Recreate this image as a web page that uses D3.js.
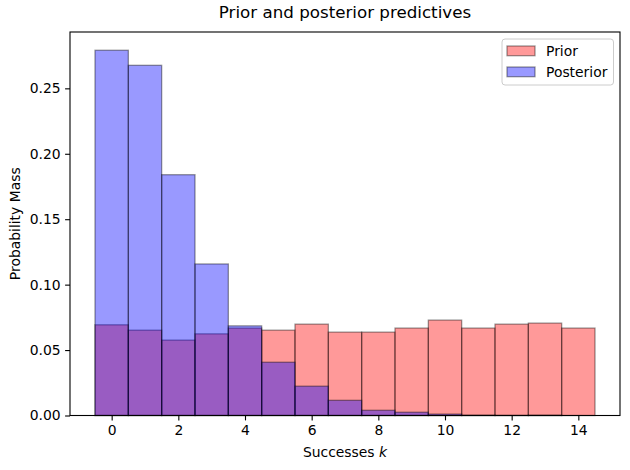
<!DOCTYPE html>
<html>
<head>
<meta charset="utf-8">
<script src="https://cdn.jsdelivr.net/npm/d3@7"></script>
<style>
  body { margin: 0; background: #fff; }
  text { font-family: "DejaVu Sans", sans-serif; fill: #000; }
</style>
</head>
<body>
<svg id="chart" width="630" height="470"></svg>
<script>
// chart data
const ks = [0, 1, 2, 3, 4, 5, 6, 7, 8, 9, 10, 11, 12, 13, 14];
const prior = [0.0693, 0.0652, 0.0576, 0.0624, 0.0668, 0.0652, 0.0698, 0.0637,
               0.0637, 0.0668, 0.0729, 0.0668, 0.0698, 0.0706, 0.0668];
const posterior = [0.2791, 0.2676, 0.1840, 0.1158, 0.0685, 0.0407, 0.0224, 0.0116,
                   0.0040, 0.0025, 0.0011, 0.0003, 0.0001, 0.0003, 0.0000];
const xTicks = [0, 2, 4, 6, 8, 10, 12, 14];
const yTicks = [0, 0.05, 0.10, 0.15, 0.20, 0.25];

const L = 70, R = 620, T = 32, B = 415.5;
const svg = d3.select('#chart');

// matplotlib-ish 5% margins
const x = d3.scaleLinear().domain([-1.25, 15.25]).range([L, R]);
const yMax = d3.max(prior.concat(posterior)) * 1.05;
const y = d3.scaleLinear().domain([0, yMax]).range([B, T]);

function drawBars(vals, color) {
  svg.append('g').selectAll('rect')
    .data(vals)
    .join('rect')
    .attr('x', (d, i) => x(ks[i] - 0.5))
    .attr('width', (d, i) => x(ks[i] + 0.5) - x(ks[i] - 0.5))
    .attr('y', d => y(d))
    .attr('height', d => B - y(d))
    .attr('fill', color)
    .attr('fill-opacity', 0.4)
    .attr('stroke', 'rgba(0,0,0,0.4)')
    .attr('stroke-width', 1.3);
}
drawBars(prior, 'rgb(255,0,0)');
drawBars(posterior, 'rgb(0,0,255)');

// axes
const xAxis = d3.axisBottom(x).tickValues(xTicks).tickSize(4.9).tickPadding(4.5)
  .tickFormat(d3.format('d'));
const yAxis = d3.axisLeft(y).tickValues(yTicks).tickSize(4.9).tickPadding(4.5)
  .tickFormat(d3.format('.2f'));

const gx = svg.append('g').attr('transform', `translate(0,${B})`).call(xAxis);
const gy = svg.append('g').attr('transform', `translate(${L},0)`).call(yAxis);
[gx, gy].forEach(g => {
  g.select('.domain').remove();
  g.selectAll('line').attr('stroke', '#000').attr('stroke-width', 1.1);
  g.selectAll('text').attr('font-size', 13.9).attr('font-family', 'DejaVu Sans');
});

// frame
svg.append('rect')
  .attr('x', L).attr('y', T)
  .attr('width', R - L).attr('height', B - T)
  .attr('fill', 'none').attr('stroke', '#000').attr('stroke-width', 1.1);

// labels
svg.append('text')
  .attr('x', (L + R) / 2).attr('y', 18)
  .attr('text-anchor', 'middle').attr('font-size', 16.7)
  .text('Prior and posterior predictives');

const xl = svg.append('text')
  .attr('x', (L + R) / 2).attr('y', 457)
  .attr('text-anchor', 'middle').attr('font-size', 13.9);
xl.append('tspan').text('Successes ');
xl.append('tspan').attr('font-style', 'italic').text('k');

svg.append('text')
  .attr('transform', `translate(20,${(T + B) / 2}) rotate(-90)`)
  .attr('text-anchor', 'middle').attr('font-size', 13.9)
  .text('Probability Mass');

// legend
const lg = svg.append('g');
lg.append('rect')
  .attr('x', 502).attr('y', 39).attr('width', 111.5).attr('height', 46)
  .attr('rx', 3).attr('fill', '#fff').attr('fill-opacity', 0.8)
  .attr('stroke', '#cccccc').attr('stroke-width', 1);
const entries = [['Prior', 'rgb(255,0,0)'], ['Posterior', 'rgb(0,0,255)']];
entries.forEach(([name, color], i) => {
  const yy = 46 + i * 21;
  lg.append('rect')
    .attr('x', 507).attr('y', yy).attr('width', 28).attr('height', 9.7)
    .attr('fill', color).attr('fill-opacity', 0.4)
    .attr('stroke', 'rgba(0,0,0,0.4)').attr('stroke-width', 1.3);
  lg.append('text')
    .attr('x', 546).attr('y', yy + 10)
    .attr('font-size', 13.9)
    .text(name);
});
</script>
</body>
</html>
